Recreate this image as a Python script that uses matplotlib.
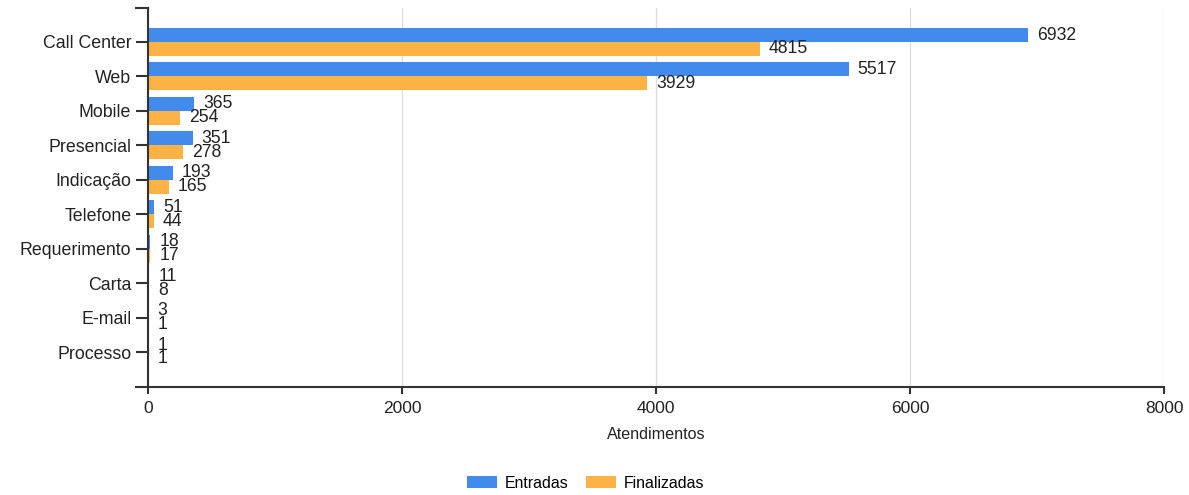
import numpy as np
import matplotlib
matplotlib.use("Agg")
import matplotlib.pyplot as plt
from matplotlib.lines import Line2D
from matplotlib.patches import Patch

plt.rcParams['font.family'] = ['Liberation Sans', 'DejaVu Sans']

# dados
canais = ["Call Center", "Web", "Mobile", "Presencial", "Indicação",
          "Telefone", "Requerimento", "Carta", "E-mail", "Processo"]
entradas = [6932, 5517, 365, 351, 193, 51, 18, 11, 3, 1]
finalizadas = [4815, 3929, 254, 278, 165, 44, 17, 8, 1, 1]
xticks = [0, 2000, 4000, 6000, 8000]

cor_entradas = '#428bed'
cor_finalizadas = '#fdb244'
cor_texto = '#222222'
cor_eixo = '#333333'

W, H = 1189, 495
fig = plt.figure(figsize=(W / 100, H / 100), dpi=100)
# eixo em pixels: esquerda 148, direita 1164, topo 8, base 387
ax = fig.add_axes([148 / W, 1 - 387 / H, (1164 - 148) / W, (387 - 8) / H])

y = np.arange(len(canais))
h = 0.406
ax.barh(y - h / 2, entradas, height=h, color=cor_entradas, zorder=3)
ax.barh(y + h / 2, finalizadas, height=h, color=cor_finalizadas, zorder=3)

for i in range(len(canais)):
    ax.annotate(str(entradas[i]), (entradas[i], y[i] - h / 2), xytext=(6.5, 0),
                textcoords='offset points', va='center', ha='left',
                fontsize=12.7, color=cor_texto)
    ax.annotate(str(finalizadas[i]), (finalizadas[i], y[i] + h / 2), xytext=(6.5, 0),
                textcoords='offset points', va='center', ha='left',
                fontsize=12.7, color=cor_texto)

ax.set_xlim(0, 8000)
ax.set_ylim(10.016, -0.987)
ax.set_xticks(xticks)
ax.set_xticklabels([str(v) for v in xticks], fontsize=12.5, color=cor_texto)
ax.set_yticks(y)
ax.set_yticklabels(canais, fontsize=12.8, color=cor_texto)
ax.tick_params(axis='y', length=9, width=1.5, color=cor_eixo, pad=3)
ax.tick_params(axis='x', length=5, width=1.5, color=cor_eixo, pad=5)
ax.grid(axis='x', color='#dedede', linewidth=1, zorder=0)
for s in ax.spines.values():
    s.set_visible(False)

# linhas dos eixos (com as marcas externas)
def px_line(x0, y0, x1, y1):
    fig.add_artist(Line2D([x0 / W, x1 / W], [1 - y0 / H, 1 - y1 / H],
                          color=cor_eixo, linewidth=1.5))

px_line(148, 8, 148, 387)
px_line(136, 8, 148, 8)
px_line(136, 387, 1164, 387)

ax.set_xlabel("Atendimentos", fontsize=11.6, color=cor_texto, labelpad=8)

handles = [Patch(facecolor=cor_entradas, label="Entradas"),
           Patch(facecolor=cor_finalizadas, label="Finalizadas")]
fig.legend(handles=handles, loc='center', bbox_to_anchor=(585.5 / W, 1 - 483 / H),
           ncol=2, frameon=False, fontsize=11.4, handlelength=1.9, handleheight=0.7,
           columnspacing=1.07, handletextpad=0.5)

fig.savefig("out.png", dpi=100)
